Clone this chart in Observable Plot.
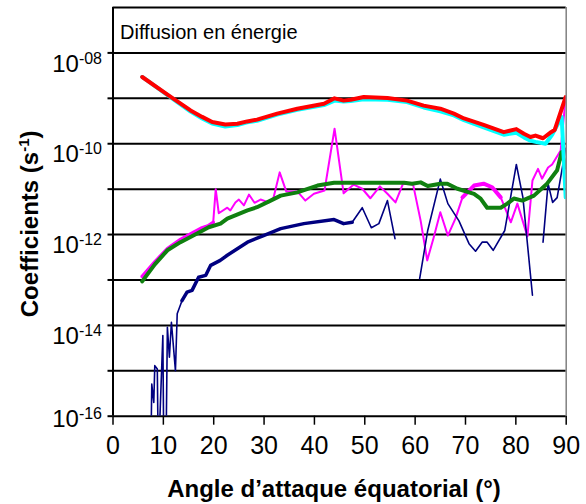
<!DOCTYPE html>
<html><head><meta charset="utf-8">
<script src="https://cdn.jsdelivr.net/npm/d3@7"></script>
<script src="https://cdn.jsdelivr.net/npm/@observablehq/plot@0.6"></script>
<style>body{margin:0;background:#fff} #chart{width:586px;height:504px}</style>
</head><body><div id="chart"></div>
<script>
// ---- data (angle in degrees, coefficient in s^-1) ----
const redX = [5.8,11.1,15.4,17.7,19.7,22.3,24.7,26.65,28.6,32.6,36.6,41.9,44.0,45.8,47.2,49.8,54.5,58.4,61.7,65.0,67.7,69.7,73.6,77.6,80.1,81.6,82.9,83.9,85.4,86.8,87.7,89.9];
const redY = [2.95e-9,1.15e-9,5.4e-10,3.9e-10,3.0e-10,2.66e-10,2.75e-10,3.1e-10,3.4e-10,4.6e-10,5.9e-10,7.6e-10,1.0e-9,8.9e-10,9.3e-10,1.07e-9,1.02e-9,8.9e-10,6.9e-10,5.9e-10,4.6e-10,3.6e-10,2.6e-10,1.8e-10,2.1e-10,1.66e-10,1.41e-10,1.51e-10,1.32e-10,1.74e-10,2.0e-10,1.07e-9];

const cyanX = [5.8,11.1,15.4,17.7,19.7,22.3,24.7,26.65,28.6,32.6,36.6,41.9,44.0,45.8,47.2,49.8,54.5,58.4,61.7,65.0,67.7,69.7,73.6,77.6,80.1,81.6,82.9,83.9,85.9,87.2,89.1,89.9];
const cyanY = [2.95e-9,1.12e-9,5.1e-10,3.6e-10,2.8e-10,2.4e-10,2.57e-10,2.95e-10,3.2e-10,4.4e-10,5.6e-10,7.1e-10,8.9e-10,8.5e-10,8.7e-10,9.5e-10,9.3e-10,8.3e-10,6.3e-10,5.2e-10,4.2e-10,3.3e-10,2.3e-10,1.58e-10,1.74e-10,1.38e-10,1.17e-10,1.1e-10,1.0e-10,1.58e-10,3.9e-10,6.6e-12];

const greenX = [5.8,8.3,10.8,13.4,16.7,19.0,21.35,22.7,26.7,28.6,31.3,33.3,36.6,40.6,43.9,57.8,59.4,61.1,62.5,65.0,66.4,68.4,71.7,73.0,74.3,77.0,78.3,79.6,81.3,83.6,86.2,88.2,89.1,89.9];
const greenY = [9.3e-14,2.2e-13,4.5e-13,6.8e-13,1.05e-12,1.45e-12,1.74e-12,2.24e-12,3.4e-12,4.0e-12,5.6e-12,7.2e-12,8.5e-12,1.2e-11,1.38e-11,1.38e-11,1.32e-11,1.41e-11,1.17e-11,1.32e-11,1.32e-11,1.02e-11,7.9e-12,6.2e-12,3.9e-12,3.9e-12,4.8e-12,6.2e-12,5.6e-12,7.2e-12,1.32e-11,2.6e-11,6.6e-11,3.0e-11];

const magentaX = [5.8,8.3,10.8,13.4,16.0,17.5,19.0,19.9,20.4,21.0,22.7,23.3,24.3,25.0,26.0,27.0,28.1,29.3,30.9,31.9,33.1,34.4,36.6,38.2,39.9,42.0,44.0,45.8,47.8,49.5,51.1,53.0,54.5,56.1,57.6,59.6,61.1,62.4,63.7,65.0,66.5,68.0,69.4,71.7,73.6,75.3,77.0,79.0,80.3,82.3,83.3,84.4,85.2,86.4,87.2,88.9,89.9];
const magentaY = [1.2e-13,2.5e-13,4.9e-13,7.8e-13,1.12e-12,1.38e-12,1.58e-12,1.86e-12,1.0e-11,2.95e-12,3.9e-12,3.4e-12,5.1e-12,5.9e-12,4.4e-12,7.6e-12,5.0e-12,5.9e-12,5.1e-12,6.6e-12,2.34e-11,8.9e-12,8.9e-12,5.6e-12,7.9e-12,9.3e-12,2.14e-10,8.1e-12,1.26e-11,1.02e-11,6.3e-12,1.15e-11,7.9e-12,5.1e-12,1.32e-11,1.26e-11,2.0e-12,2.7e-13,8.7e-13,3.1e-12,9.5e-13,2.24e-12,6.6e-12,1.2e-11,1.32e-11,1.1e-11,6.6e-12,1.86e-12,4.8e-12,9.1e-13,1.55e-11,2.8e-11,1.7e-11,3.0e-11,3.5e-11,7.1e-11,1.07e-9];

// null = gap in the curve; 1e-17 = below the axis floor
const navyX = [7.5,7.7,8.1,8.3,8.8,9.0,9.9,10.1,10.5,10.8,11.2,11.6,12.4,12.75,13.7,14.7,15.7,17.0,18.4,19.4,21.3,22.7,26.7,29.9,33.3,37.9,43.9,45.8,47.5,49.5,51.3,52.8,54.5,56.0,58.5,60.9,62.5,65.0,66.5,68.7,70.7,72.0,73.3,74.3,75.5,77.8,80.1,81.4,83.3,84.3,85.4,86.4,87.3,88.2,89.9];
const navyY = [1e-17,5.1e-16,2.0e-16,1.3e-15,1.1e-15,1e-17,6.0e-15,1e-17,1e-17,9.1e-15,2.0e-15,1.17e-14,1.0e-15,1.8e-14,3.5e-14,5.4e-14,5.9e-14,1.15e-13,1.26e-13,2.1e-13,2.7e-13,3.5e-13,6.8e-13,9.5e-13,1.35e-12,1.74e-12,2.14e-12,1.74e-12,1.86e-12,3.9e-12,1.41e-12,1.74e-12,5.6e-12,8.1e-13,null,1.07e-13,1.23e-12,1.66e-11,4.8e-12,2.0e-12,6.3e-13,4.3e-13,6.8e-13,6.8e-13,4.5e-13,1.23e-12,3.5e-11,6.6e-12,4.6e-14,null,6.8e-13,1.32e-11,5.1e-12,6.5e-12,7.9e-11];

const decades = [1e-16,1e-15,1e-14,1e-13,1e-12,1e-11,1e-10,1e-9,1e-8,1e-7];
const labelDecades = [1e-16,1e-14,1e-12,1e-10,1e-8];
const xTicks = [0,10,20,30,40,50,60,70,80,90];
const titleText = "Diffusion en énergie";
const xTitle = "Angle d’attaque équatorial (°)";
const yTitle = "Coefficients (s-1)";

function series(xs, ys) { return xs.map((x, i) => ({x, y: ys[i]})); }
const red = series(redX, redY), cyan = series(cyanX, cyanY), green = series(greenX, greenY);
const magenta = series(magentaX, magentaY), navy = series(navyX, navyY);

const font = "'Liberation Sans', Arial, Helvetica, sans-serif";
const plot = Plot.plot({
  width: 586, height: 504,
  marginLeft: 112.5, marginRight: 20.3, marginTop: 7, marginBottom: 88.3,
  style: {fontFamily: font, background: "white", color: "black", overflow: "visible"},
  x: {domain: [0, 90]},
  y: {type: "log", domain: [1e-16, 1e-7]},
  marks: [
    Plot.ruleY(decades, {stroke: "black", strokeWidth: 2}),
    Plot.line(magenta, {x: "x", y: "y", stroke: "#ff00ff", strokeWidth: 2, clip: true}),
    Plot.line(magenta.filter(d => d.x <= 19.9), {x: "x", y: "y", stroke: "#ff00ff", strokeWidth: 3.5, clip: true}),
    Plot.line(magenta.filter(d => d.x >= 69.4 && d.x <= 77), {x: "x", y: "y", stroke: "#ff00ff", strokeWidth: 4, clip: true}),
    Plot.line(navy, {x: "x", y: "y", stroke: "#000080", strokeWidth: 1.6, clip: true}),
    Plot.line(navy.filter(d => d.x >= 13.7 && d.x <= 47.5), {x: "x", y: "y", stroke: "#000080", strokeWidth: 3.5, clip: true}),
    Plot.line(green, {x: "x", y: "y", stroke: "#108010", strokeWidth: 4, clip: true}),
    Plot.line(cyan, {x: "x", y: "y", stroke: "#00ffff", strokeWidth: 4, clip: true}),
    Plot.line(red, {x: "x", y: "y", stroke: "#ff0000", strokeWidth: 4, clip: true}),
    Plot.ruleX([0], {stroke: "black", strokeWidth: 2}),
    Plot.ruleX([90], {stroke: "#808080", strokeWidth: 1.5}),
    Plot.axisX({ticks: xTicks, tickSize: 9, tickPadding: 11, fontSize: 25, strokeWidth: 1.5, label: null}),
    Plot.axisY({ticks: decades.slice(0, 9), tickSize: 5, tickPadding: 6, fontSize: 24, strokeWidth: 2, label: null,
      tickFormat: d => labelDecades.includes(d) ? "-" + String(-Math.round(Math.log10(d))).padStart(2, "0") : ""}),
    Plot.text([titleText], {frameAnchor: "top-left", dx: 7, dy: 24.6, fontSize: 20, textAnchor: "start", lineAnchor: "middle"}),
    Plot.text([xTitle], {frameAnchor: "bottom", dx: -5.6, dy: 73.6, fontSize: 24, fontWeight: "bold", textAnchor: "middle", lineAnchor: "middle"}),
    Plot.text([yTitle], {frameAnchor: "left", dx: -83, dy: 12, rotate: -90, fontSize: 24, fontWeight: "bold", textAnchor: "middle", lineAnchor: "middle"})
  ]
});

// superscript exponents on the y tick labels
d3.select(plot).selectAll('g[aria-label="y-axis tick label"] text').each(function() {
  const t = d3.select(this); const s = t.text(); if (!s) return;
  t.text(null).attr("dy", s === "-16" ? "3px" : "11px");
  t.append("tspan").text("10");
  t.append("tspan").attr("dy", "-8px").attr("font-size", "16px").text(s);
});
// superscript in the y title
d3.select(plot).selectAll("text").filter(function() { return this.textContent === yTitle; }).each(function() {
  const t = d3.select(this); const s = t.text();
  const i = s.lastIndexOf("(s") + 2;
  t.text(null);
  t.append("tspan").text(s.slice(0, i));
  t.append("tspan").attr("dy", "-9px").attr("font-size", "15px").text(s.slice(i, s.length - 1));
  t.append("tspan").attr("dy", "9px").text(s.slice(s.length - 1));
});
document.getElementById("chart").appendChild(plot);
</script></body></html>
